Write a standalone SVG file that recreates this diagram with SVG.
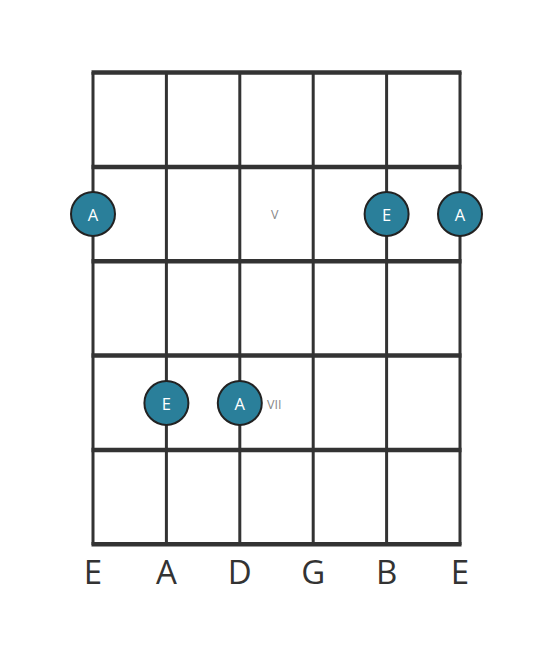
<svg xmlns="http://www.w3.org/2000/svg" width="553" height="656" viewBox="0 0 553 656">
<style>
.fret{stroke:#333;stroke-width:4.5;fill:none}
.str{stroke:#333;stroke-width:3;fill:none}
.dot circle{fill:#2a7f9a;stroke:#222;stroke-width:2}
.dot text{fill:#fff;font-family:"Open Sans",sans-serif;font-size:16.5px;text-anchor:middle;dominant-baseline:central}
.pos{fill:#888;font-family:"Open Sans",sans-serif;font-size:12.5px;dominant-baseline:central}
.lbl{fill:#333;font-family:"Open Sans",sans-serif;font-size:33px;text-anchor:middle}
</style>
<rect width="553" height="656" fill="#fff"/>
<g id="connectors">
<line class="str" x1="93" y1="72" x2="93" y2="545"/>
<line class="str" x1="166.4" y1="72" x2="166.4" y2="545"/>
<line class="str" x1="239.8" y1="72" x2="239.8" y2="545"/>
<line class="str" x1="313.2" y1="72" x2="313.2" y2="545"/>
<line class="str" x1="386.6" y1="72" x2="386.6" y2="545"/>
<line class="str" x1="460" y1="72" x2="460" y2="545"/>
<line class="fret" x1="91.5" y1="72.5" x2="461.5" y2="72.5"/>
<line class="fret" x1="91.5" y1="167" x2="461.5" y2="167"/>
<line class="fret" x1="91.5" y1="261.3" x2="461.5" y2="261.3"/>
<line class="fret" x1="91.5" y1="355.6" x2="461.5" y2="355.6"/>
<line class="fret" x1="91.5" y1="450" x2="461.5" y2="450"/>
<line class="fret" x1="91.5" y1="544.3" x2="461.5" y2="544.3"/>
</g>
<g id="n1" class="dot"><circle cx="93" cy="214" r="22"/><text x="93" y="214">A</text></g>
<g id="n2" class="dot"><circle cx="386.6" cy="214" r="22"/><text x="386.6" y="214">E</text></g>
<g id="n3" class="dot"><circle cx="460" cy="214" r="22"/><text x="460" y="214">A</text></g>
<g id="n4" class="dot"><circle cx="166.4" cy="403" r="22"/><text x="166.4" y="403">E</text></g>
<g id="n5" class="dot"><circle cx="239.8" cy="403" r="22"/><text x="239.8" y="403">A</text></g>
<text class="pos" x="271" y="214">V</text>
<text class="pos" x="267" y="404">VII</text>
<g id="labels">
<text class="lbl" x="93" y="584">E</text>
<text class="lbl" x="166.4" y="584">A</text>
<text class="lbl" x="239.8" y="584">D</text>
<text class="lbl" x="313.2" y="584">G</text>
<text class="lbl" x="386.6" y="584">B</text>
<text class="lbl" x="460" y="584">E</text>
</g>
</svg>
